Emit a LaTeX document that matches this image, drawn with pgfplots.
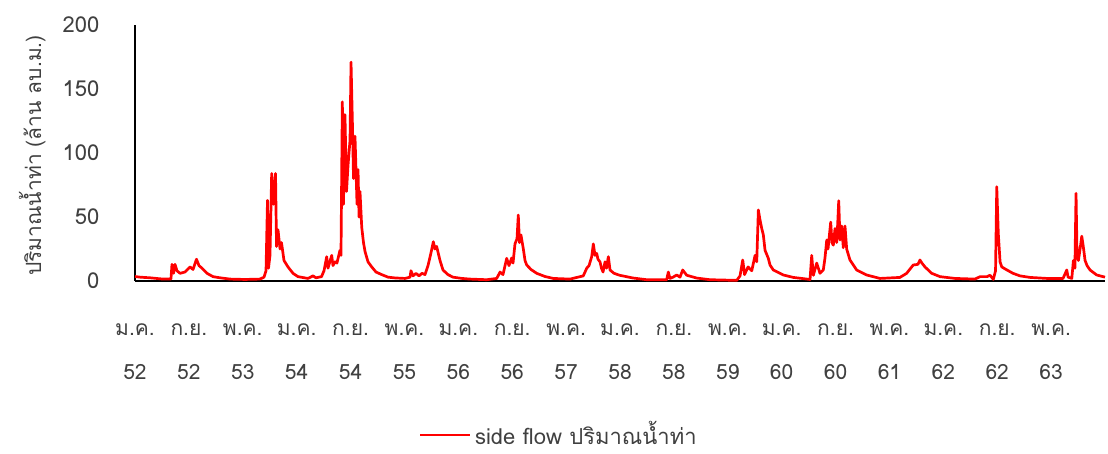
\documentclass[border=0pt]{standalone}
\usepackage{fontspec}
\setmainfont{Loma}[Script=Thai]
\usepackage{pgfplots}
\pgfplotsset{compat=1.18}
\definecolor{txt}{HTML}{404040}
\begin{document}
\begin{tikzpicture}
\useasboundingbox (-67.5pt,-86.5pt) rectangle (486.5pt,140.5pt);
\begin{axis}[
  at={(0,0)}, anchor=south west,
  scale only axis, width=485pt, height=128pt,
  xmin=0, xmax=144, ymin=0, ymax=200,
  axis lines=left, axis line style={black, line width=1pt, -},
  tick style={draw=none},
  xtick={0,8,...,136},
  xticklabels={{ม.ค.\\52},{ก.ย.\\52},{พ.ค.\\53},{ม.ค.\\54},{ก.ย.\\54},{พ.ค.\\55},{ม.ค.\\56},{ก.ย.\\56},{พ.ค.\\57},{ม.ค.\\58},{ก.ย.\\58},{พ.ค.\\59},{ม.ค.\\60},{ก.ย.\\60},{พ.ค.\\61},{ม.ค.\\62},{ก.ย.\\62},{พ.ค.\\63}},
  xticklabel style={align=center, anchor=north, inner sep=0pt, yshift=-19pt, font=\fontsize{10.5}{22}\selectfont, text=txt},
  ytick={0,50,100,150,200},
  yticklabel style={anchor=east, inner sep=0pt, xshift=-15.5pt, font=\fontsize{11}{13}\selectfont, text=txt},
  /pgf/number format/assume math mode=true,
  ylabel={ปริมาณน้ำท่า (ล้าน ลบ.ม.)},
  every axis y label/.style={at={(axis description cs:-0.106,0.49)}, rotate=90, anchor=center, font=\fontsize{10.5}{13}\selectfont, text=txt},
  legend style={at={(axis description cs:0.438,-0.6)}, anchor=center, draw=none, fill=none, font=\fontsize{11}{13}\selectfont, text=txt},
  legend image code/.code={\draw[red, line width=1pt] (0pt,0pt) -- (25pt,0pt);},
  clip=false,
]
\addplot[red, line width=1.35pt, line join=round] coordinates {
(0,3.5) (0.74,3.0) (2.23,2.5) (4.16,1.5) (5.34,1.5) (5.49,13) (5.72,6) (5.94,13) (6.23,8) (6.68,6)
(7.42,7) (8.17,11) (8.61,9) (9.13,17) (9.50,12) (9.95,10) (10.69,6) (11.58,3.4) (12.62,2.5) (14.10,1.5)
(16.33,1.2) (18.56,1.5) (19.15,3) (19.45,8) (19.67,63) (19.82,10) (20.04,20) (20.29,84) (20.56,60) (20.86,84)
(21.01,27) (21.23,40) (21.53,25) (21.75,30) (22.12,16) (22.71,11) (23.46,6) (24.20,3.4) (25.68,2) (26.42,4)
(26.87,2.5) (27.69,3.4) (28.06,8) (28.46,19) (28.65,10) (29.20,20) (29.39,12) (29.69,15) (29.98,14) (30.43,24)
(30.58,20) (30.78,140) (30.95,60) (31.17,130) (31.40,70) (31.62,90) (31.92,110) (32.07,171) (32.29,120) (32.44,80)
(32.66,113) (32.96,60) (33.11,87) (33.26,50) (33.40,70) (33.66,42) (33.92,30) (34.15,23) (34.59,15) (35.14,11)
(35.78,7) (36.62,5) (37.56,3) (38.60,2.4) (40.08,2) (40.83,3) (40.97,8) (41.27,4) (41.72,6) (42.16,4)
(42.61,6) (43.05,5) (43.50,12) (43.94,22) (44.29,30.7) (44.53,25) (44.78,27) (45.28,16) (45.72,8.6) (46.46,5)
(47.21,3) (48.54,2) (49.73,1.5) (52.21,1) (53.70,2) (54.19,7) (54.63,5) (55.18,17.7) (55.52,12) (55.92,18)
(56.12,14) (56.41,29) (56.71,33) (56.90,51.5) (57.08,30) (57.30,36) (57.65,25) (57.90,16) (58.15,12.5) (58.79,9)
(59.63,6) (60.87,3.5) (62.10,2) (64.58,1.5) (66.55,4) (67.06,10) (67.40,12) (67.80,19) (68.04,29) (68.29,20)
(68.54,21.6) (68.73,17) (69.03,15) (69.25,10) (69.48,7) (69.78,15) (70.00,10) (70.27,19) (70.52,8.6) (71.11,6)
(72.00,4.4) (73.98,2.3) (75.97,1) (78.93,1) (79.17,7) (79.42,2) (79.87,3) (80.42,4.7) (80.91,3) (81.31,8.6)
(81.90,4.5) (83.39,2.3) (85.36,1) (89.33,0.5) (89.82,4) (90.22,16.4) (90.49,5) (91.01,11) (91.56,8) (92.05,20)
(92.30,15) (92.54,55.5) (92.79,47.6) (93.04,41) (93.28,36) (93.53,24) (94.02,17.7) (94.27,12.5) (94.76,8.6) (96.24,4.7)
(97.73,2.8) (100.21,1.2) (100.46,20) (100.70,4.4) (101.20,14) (101.69,6) (102.18,8.6) (102.43,18) (102.69,32) (102.88,25)
(103.07,35) (103.28,46) (103.47,30) (103.67,28) (103.92,41) (104.17,30) (104.32,45) (104.47,62.7) (104.66,32) (104.91,43)
(105.15,26) (105.40,43) (105.65,25) (106.14,16.4) (107.13,8.6) (108.62,4.7) (110.59,2) (113.56,2.8) (114.55,6) (115.53,12.5)
(116.23,13) (116.53,16.4) (116.82,14) (117.27,11) (118.27,6) (119.51,3.4) (121.73,2) (124.70,1.5) (125.45,3.4) (126.48,3.4)
(126.93,4.5) (127.42,1.3) (127.75,8) (127.93,73.7) (128.16,37) (128.42,15) (128.67,11) (129.31,9) (130.34,6) (131.38,4)
(132.87,2.8) (135.39,2) (137.77,2) (138.32,8.6) (138.52,3) (139.07,2) (139.31,16) (139.53,10) (139.70,68.5) (139.85,20)
(140.05,16) (140.30,25) (140.55,35) (140.75,28) (141.04,16) (141.34,12) (141.78,8.6) (142.77,4.7) (144.0,3)
};
\addlegendentry{side flow ปริมาณน้ำท่า}
\end{axis}
\end{tikzpicture}
\end{document}
